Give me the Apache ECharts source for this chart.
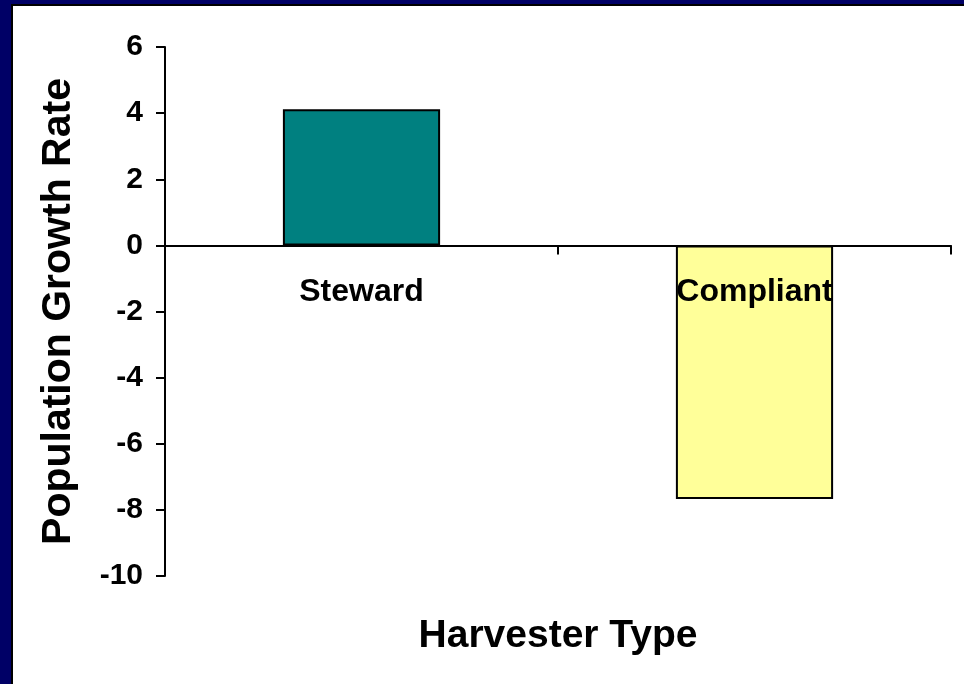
<!DOCTYPE html>
<html>
<head>
<meta charset="utf-8">
<script src="https://cdn.jsdelivr.net/npm/echarts@6/dist/echarts.min.js"></script>
<style>
  html, body { margin: 0; padding: 0; }
  #frame { position: absolute; left: 0; top: 0; width: 964px; height: 684px; background: #000066; }
  #chart {
    position: absolute; left: 11px; top: 4px; width: 951px; height: 678px;
    background: #fff; border-left: 2px solid #000; border-top: 2px solid #000;
  }
</style>
</head>
<body>
<div id="frame"><div id="chart"></div></div>
<script>
const categories = ["Steward", "Compliant"];
const growthRates = [4.12, -7.67];
const barColors = ["#008080", "#FFFF99"];

const yMin = -10;
const yMax = 6;
const yStep = 2;

const font = "'Liberation Sans', Arial, sans-serif";

const chart = echarts.init(document.getElementById("chart"));

chart.setOption({
  animation: false,
  backgroundColor: "#fff",
  grid: { left: 152, right: 13, top: 41, bottom: 108, outerBoundsMode: "none", containLabel: false },
  xAxis: {
    type: "category",
    data: categories,
    z: 5, // labels drawn over the bars
    name: "Harvester Type",
    nameLocation: "middle",
    nameGap: 41,
    nameMoveOverlap: false,
    nameTextStyle: { fontFamily: font, fontWeight: "bold", fontSize: 39, color: "#000" },
    axisLine: { onZero: true, lineStyle: { color: "#000", width: 2 } },
    axisTick: { show: true, length: 9, lineStyle: { color: "#000", width: 2 } },
    // labels sit under the zero line, not the grid bottom
    axisLabel: { margin: -300, fontFamily: font, fontWeight: "bold", fontSize: 32, color: "#000" },
  },
  yAxis: {
    type: "value",
    min: yMin,
    max: yMax,
    interval: yStep,
    name: "Population Growth Rate",
    nameLocation: "middle",
    nameRotate: 90,
    nameGap: 86,
    nameTextStyle: { fontFamily: font, fontWeight: "bold", fontSize: 41, color: "#000" },
    axisLine: { show: true, lineStyle: { color: "#000", width: 2 } },
    axisTick: { show: true, length: 9, lineStyle: { color: "#000", width: 2 } },
    axisLabel: { margin: 22, fontFamily: font, fontWeight: "bold", fontSize: 30, color: "#000" },
    splitLine: { show: false },
  },
  series: [
    {
      type: "bar",
      barCategoryGap: "60%",
      data: growthRates.map((v, i) => ({
        value: v,
        itemStyle: { color: barColors[i], borderColor: "#000", borderWidth: 2 },
      })),
    },
  ],
});
</script>
</body>
</html>
